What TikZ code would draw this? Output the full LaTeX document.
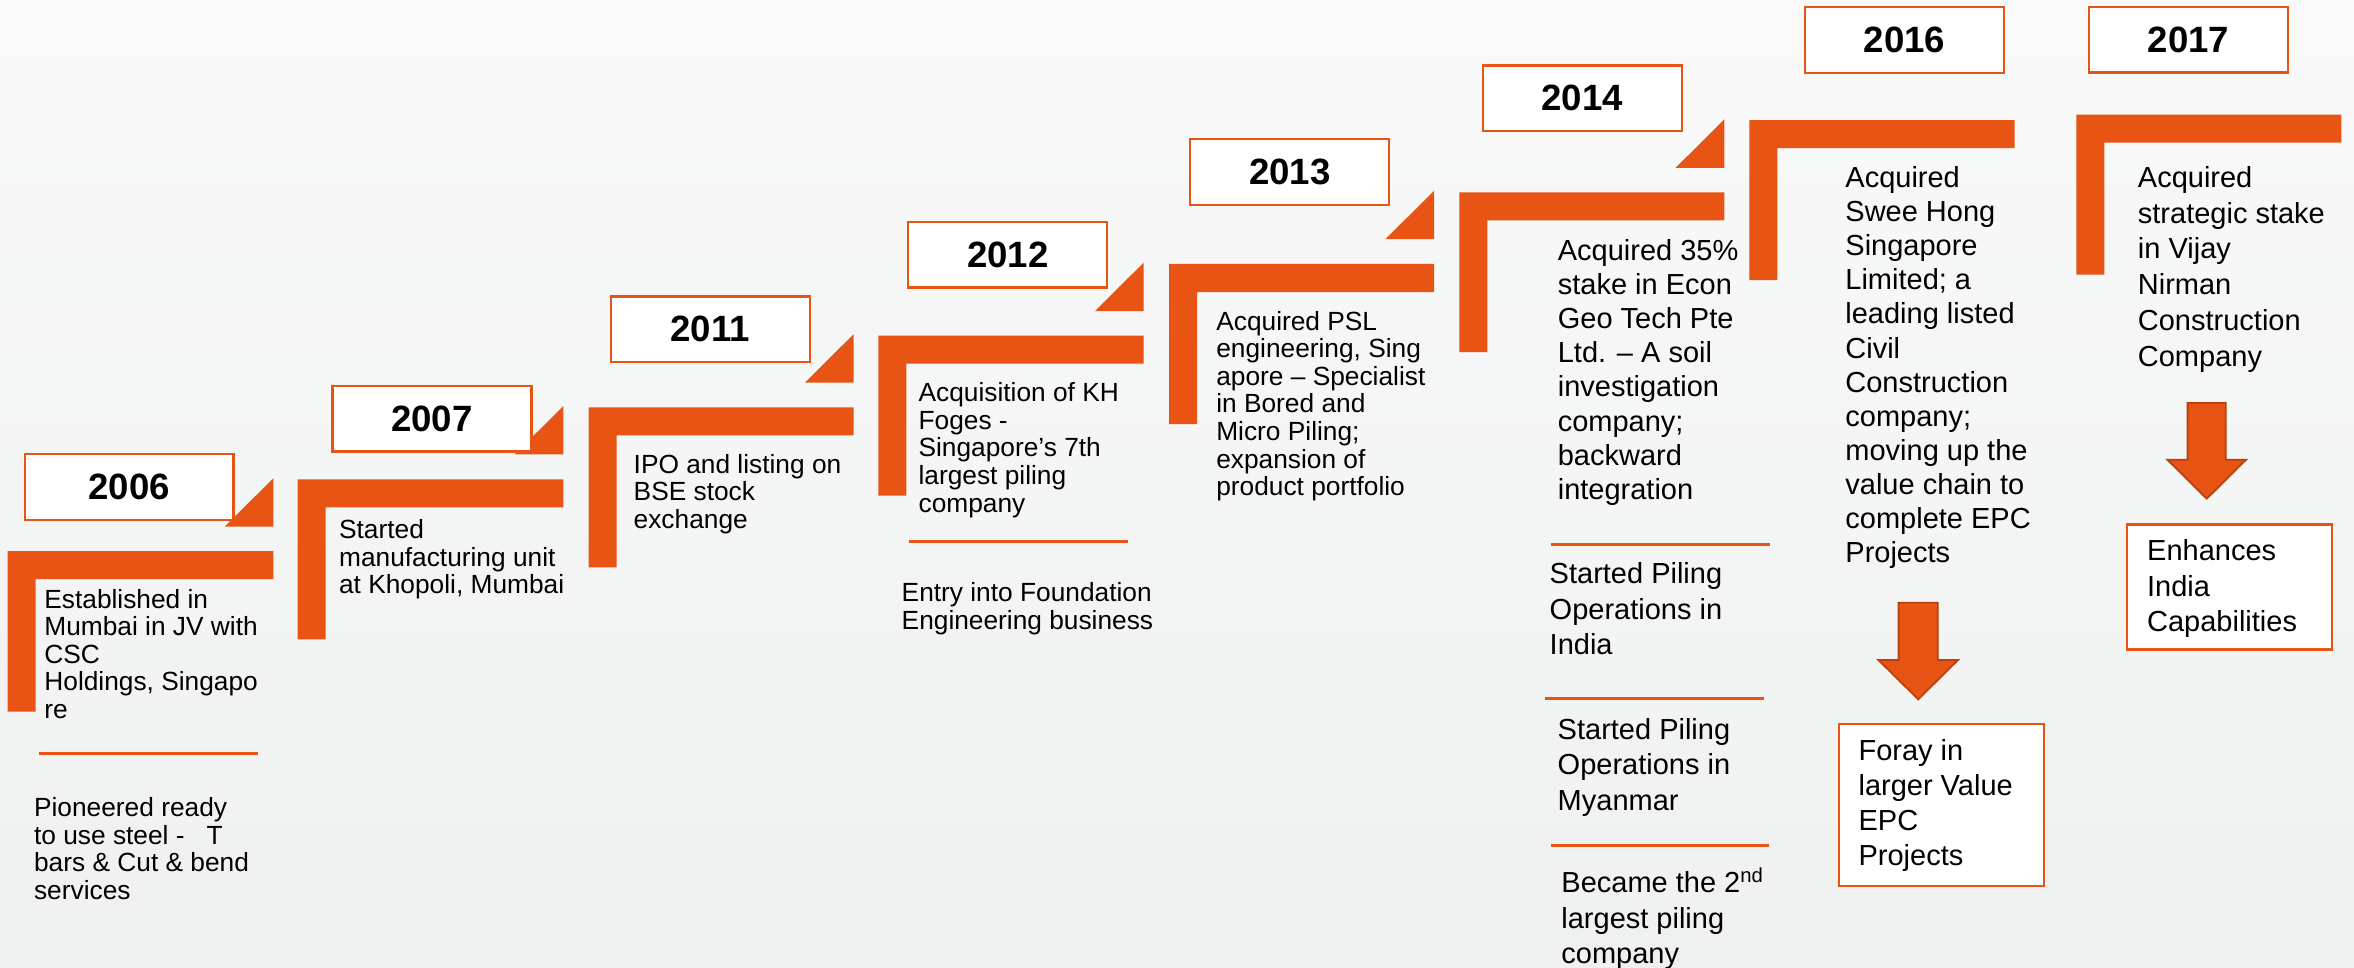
\documentclass[tikz,border=0pt]{standalone}
\usepackage{fontspec}
\setmainfont{Liberation Sans}
\usetikzlibrary{positioning,calc}

\definecolor{brandorange}{RGB}{232,84,20}
\definecolor{arrowedge}{RGB}{188,64,14}
\definecolor{bgtop}{RGB}{249,249,249}
\definecolor{bgbottom}{RGB}{239,241,241}

\begin{document}
\begin{tikzpicture}[x=0.5pt, y=-0.5pt,
    yearbox/.style={rectangle, draw=brandorange, line width=1.2pt, fill=white, minimum width=99.5pt, minimum height=32.75pt, inner sep=0pt, font=\bfseries\fontsize{18.3}{20}\selectfont},
    stepbar/.style={fill=brandorange},
    notch/.style={fill=brandorange},
    smalltext/.style={anchor=base west, align=left, inner sep=0pt, font=\fontsize{13.15}{13.8}\selectfont},
    bigtext/.style={anchor=base west, align=left, inner sep=0pt, font=\fontsize{14.5}{17.6}\selectfont},
    sepline/.style={draw=brandorange, line width=1.35pt},
    resultbox/.style={rectangle, draw=brandorange, line width=1.25pt, fill=white, inner sep=0pt, minimum width=102.45pt},
    blockarrow/.style={fill=brandorange, draw=arrowedge, line width=0.9pt}]

    % background
    \shade[top color=bgtop, bottom color=bgbottom] (0,0) rectangle (2354,968);
    \useasboundingbox (0,0) rectangle (2354,968);

    % steps
    \foreach \xa/\ya/\xb/\yb in {7.7/551/273.3/711.7, 297.7/479.3/563.4/639.3, 588.5/407.3/853.5/567.3,
        878.4/335.7/1143.6/495.7, 1169.2/264/1434.2/424, 1459.4/192.4/1724.3/352.2,
        1749.3/120.2/2014.5/280.1, 2076.3/114.7/2341.3/274.6}
        \fill[stepbar] (\xa,\ya) -- (\xb,\ya) -- (\xb,\ya+28) -- (\xa+28,\ya+28) -- (\xa+28,\yb) -- (\xa,\yb) -- cycle;

    \foreach \xr/\yt in {273.3/478.3, 563.4/406, 853.5/334.3, 1143.6/262.7, 1434.2/190.7, 1724.3/119.4}
        \fill[notch] (\xr,\yt) -- (\xr,\yt+48.4) -- (\xr-48.7,\yt+48.4) -- cycle;

    % years
    \node[yearbox, minimum width=104.25pt] (y2006) at (129.2,487) {2006};
    \node[yearbox] (y2007) at (432,418.9) {2007};
    \node[yearbox] (y2011) at (710.2,329.2) {2011};
    \node[yearbox] (y2012) at (1007.7,254.8) {2012};
    \node[yearbox] (y2013) at (1289.7,172) {2013};
    \node[yearbox] (y2014) at (1582.3,98.4) {2014};
    \node[yearbox] (y2016) at (1904.5,40) {2016};
    \node[yearbox] (y2017) at (2188.5,39.8) {2017};

    % 2006 (text nodes sit on the baseline of their last line)
    \node[smalltext] (est) at (44,718.5) {Established in\\Mumbai in JV with\\CSC\\Holdings, Singapo\\re};
    \draw[sepline] (39,753.3) -- (258,753.3);
    \node[smalltext] (pion) at (33.7,899.4) {Pioneered ready\\to use steel -\ \ \ T\\bars \& Cut \& bend\\services};

    % 2007 - 2013
    \node[smalltext] (khop) at (338.7,593.7) {Started\\manufacturing unit\\at Khopoli, Mumbai};
    \node[smalltext] (ipo) at (633.3,528.5) {IPO and listing on\\BSE stock\\exchange};
    \node[smalltext] (kh) at (918.2,512.1) {Acquisition of KH\\Foges -\\Singapore’s 7th\\largest piling\\company};
    \draw[sepline] (909,541.7) -- (1128,541.7);
    \node[smalltext] (found) at (901.3,629.3) {Entry into Foundation\\Engineering business};
    \node[smalltext] (psl) at (1215.9,495.6) {Acquired PSL\\engineering, Sing\\apore – Specialist\\in Bored and\\Micro Piling;\\expansion of\\product portfolio};

    % 2014
    \node[bigtext, font=\fontsize{14.5}{17.1}\selectfont] (econ) at (1557.4,499.4) {Acquired 35\%\\stake in Econ\\Geo Tech Pte\\Ltd. – A soil\\investigation\\company;\\backward\\integration};
    \draw[sepline] (1550.5,544.2) -- (1769.5,544.2);
    \node[bigtext] (india) at (1549.3,654.2) {Started Piling\\Operations in\\India};
    \draw[sepline] (1545,698.3) -- (1764,698.3);
    \node[bigtext] (myan) at (1557.3,810) {Started Piling\\Operations in\\Myanmar};
    \draw[sepline] (1550.7,845.7) -- (1769.3,845.7);
    \node[bigtext] (second) at (1561,963.3) {Became the 2\textsuperscript{nd}\\largest piling\\company};

    % 2016
    \node[bigtext, font=\fontsize{14.5}{17.05}\selectfont] (swee) at (1845,562.6) {Acquired\\Swee Hong\\Singapore\\Limited; a\\leading listed\\Civil\\Construction\\company;\\moving up the\\value chain to\\complete EPC\\Projects};
    \coordinate (a16) at (1918.2,602.7);
    \draw[blockarrow] ($(a16)+(-19.6,0)$) -- ++(39.2,0) -- ++(0,57.3) -- ++(20.2,0) -- ++(-39.8,39.3) -- ++(-39.8,-39.3) -- ++(20.2,0) -- cycle;
    \node[resultbox, minimum height=81pt] (foray) at (1941.35,805) {};
    \node[bigtext, font=\fontsize{14.5}{17.5}\selectfont] (foraytxt) at ($(foray.north west)+(20.5,142.7)$) {Foray in\\larger Value\\EPC\\Projects};

    % 2017
    \node[bigtext, font=\fontsize{14.5}{17.85}\selectfont] (vijay) at (2137.5,366) {Acquired\\strategic stake\\in Vijay\\Nirman\\Construction\\Company};
    \coordinate (a17) at (2206.7,403);
    \draw[blockarrow] ($(a17)+(-19.1,0)$) -- ++(38.2,0) -- ++(0,56.8) -- ++(20.1,0) -- ++(-39.2,38.9) -- ++(-39.2,-38.9) -- ++(20.1,0) -- cycle;
    \node[resultbox, minimum height=62.5pt] (india2) at (2229.35,587.1) {};
    \node[bigtext, font=\fontsize{14.5}{17.85}\selectfont] (indiatxt) at ($(india2.north west)+(21.1,108.4)$) {Enhances\\India\\Capabilities};
\end{tikzpicture}
\end{document}
